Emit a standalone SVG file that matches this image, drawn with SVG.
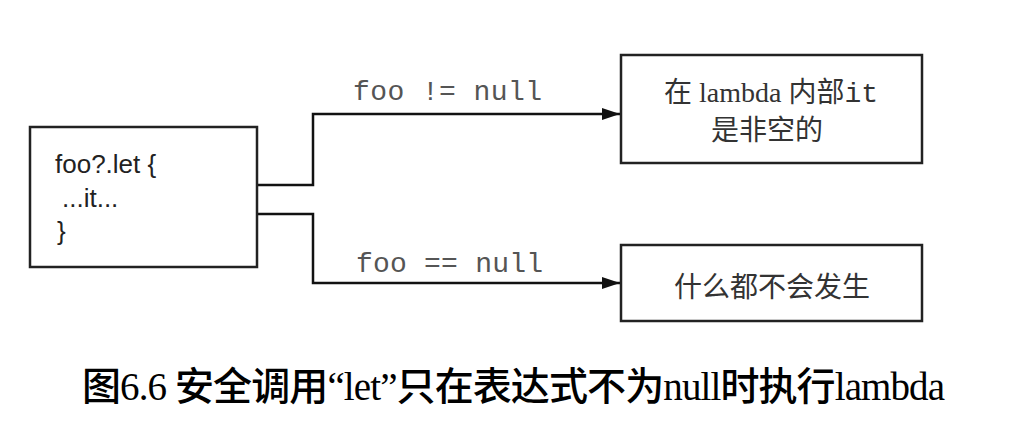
<svg xmlns="http://www.w3.org/2000/svg" width="1036" height="434" viewBox="0 0 1036 434">
<style>
.box{fill:#fff;stroke:#222;stroke-width:2.5}
.code{font-family:"Liberation Sans","Noto Sans",sans-serif;font-size:26px;fill:#222}
.lbl{font-family:"Liberation Mono","DejaVu Sans Mono",monospace;font-size:28px;fill:#555}
.zh{font-family:"Liberation Serif","Noto Sans CJK SC",serif;font-size:28px;fill:#333}
.mono{font-family:"Liberation Mono","DejaVu Sans Mono",monospace}
.cap{font-family:"Liberation Serif","Noto Sans CJK SC",serif;font-size:39px;font-weight:500;fill:#000}
.edge{fill:none;stroke:#111;stroke-width:2.5}
</style>
<defs>
<marker id="arr" viewBox="0 0 18 12" refX="18" refY="6" markerWidth="18" markerHeight="12" markerUnits="userSpaceOnUse" orient="auto">
<path d="M0,0 L18,6 L0,12 Z" fill="#111"/>
</marker>
</defs>
<rect width="1036" height="434" fill="#fff"/>
<g id="connectors">
<path class="edge" d="M257,185 H313 V114 H620" marker-end="url(#arr)"/>
<path class="edge" d="M257,214 H313 V283 H620" marker-end="url(#arr)"/>
<text class="lbl" x="353" y="100" textLength="189">foo != null</text>
<text class="lbl" x="356" y="272" textLength="187">foo == null</text>
</g>
<g id="source">
<rect class="box" x="30" y="127" width="227" height="140"/>
<text class="code" x="55" y="173">foo?.let {</text>
<text class="code" x="62" y="207">...it...</text>
<text class="code" x="57" y="240">}</text>
</g>
<g id="notnull">
<rect class="box" x="621" y="55" width="301" height="108"/>
<text class="zh" x="771" y="102" text-anchor="middle">在 lambda 内部<tspan class="mono">it</tspan></text>
<text class="zh" x="767" y="140" text-anchor="middle">是非空的</text>
</g>
<g id="isnull">
<rect class="box" x="621" y="245" width="301" height="76"/>
<text class="zh" x="772" y="297" text-anchor="middle">什么都不会发生</text>
</g>
<g id="caption">
<text class="cap" x="82" y="400" textLength="863">图6.6 安全调用“let”只在表达式不为null时执行lambda</text>
</g>
</svg>
